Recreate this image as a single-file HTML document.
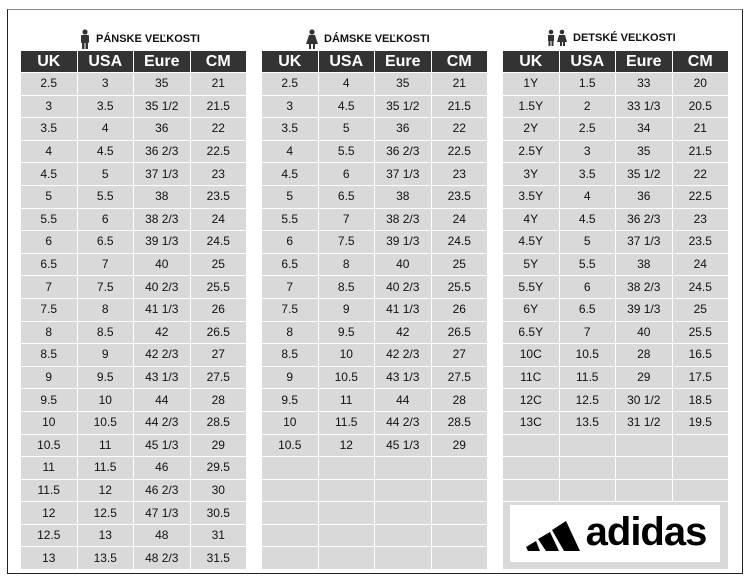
<!DOCTYPE html>
<html><head><meta charset="utf-8"><style>
body{margin:0;width:750px;height:580px;background:#fff;position:relative;font-family:"Liberation Sans",sans-serif;overflow:hidden}
.frame{position:absolute;left:7px;top:9px;width:734px;height:563px;border:1px solid #222;border-top-color:#888}
table{position:absolute;top:51px;width:227px;border-collapse:collapse;table-layout:fixed}
td{border:1px solid #fff;text-align:center;font-size:12px;color:#111;background:#d9d9d9;padding:0;height:21.6px;line-height:21px}
th{background:#333;color:#fff;font-size:16px;font-weight:bold;height:21px;border-left:1px solid #fff;border-right:1px solid #fff;padding:0}
.t{position:absolute;top:29px;font-size:11px;font-weight:bold;color:#111;display:flex;align-items:center;gap:5px}
.logo{position:absolute;left:510px;top:505px;width:210px;height:57px;background:#fff;display:flex;align-items:center;justify-content:center;gap:4px}
</style></head><body>
<div class="frame"></div>
<div class="t" style="left:79px"><svg width="12" height="20"><circle cx="6" cy="3" r="2.6" fill="#333"/><rect x="2" y="6" width="8" height="8" rx="1" fill="#333"/><rect x="3" y="13" width="2.5" height="7" fill="#333"/><rect x="6.5" y="13" width="2.5" height="7" fill="#333"/></svg>PÁNSKE VEĽKOSTI</div>
<div class="t" style="left:305px"><svg width="14" height="20"><circle cx="7" cy="3" r="2.6" fill="#333"/><path d="M4 6h6l3 9H1z" fill="#333"/><rect x="4" y="15" width="2" height="5" fill="#333"/><rect x="8" y="15" width="2" height="5" fill="#333"/></svg>DÁMSKE VEĽKOSTI</div>
<div class="t" style="left:546px"><svg width="22" height="18"><circle cx="5" cy="3" r="2.3" fill="#333"/><rect x="2" y="6" width="6" height="6" fill="#333"/><rect x="2.5" y="11" width="2" height="6" fill="#333"/><rect x="5.5" y="11" width="2" height="6" fill="#333"/><circle cx="16" cy="3" r="2.3" fill="#333"/><path d="M13 6h6l2 7h-10z" fill="#333"/><rect x="14" y="12" width="2" height="5" fill="#333"/><rect x="17" y="12" width="2" height="5" fill="#333"/></svg>DETSKÉ VEĽKOSTI</div>

<table style="left:20px"><tr><th>UK</th><th>USA</th><th>Eure</th><th>CM</th></tr>
<tr><td>2.5</td><td>3</td><td>35</td><td>21</td></tr>
<tr><td>3</td><td>3.5</td><td>35 1/2</td><td>21.5</td></tr>
<tr><td>3.5</td><td>4</td><td>36</td><td>22</td></tr>
<tr><td>4</td><td>4.5</td><td>36 2/3</td><td>22.5</td></tr>
<tr><td>4.5</td><td>5</td><td>37 1/3</td><td>23</td></tr>
<tr><td>5</td><td>5.5</td><td>38</td><td>23.5</td></tr>
<tr><td>5.5</td><td>6</td><td>38 2/3</td><td>24</td></tr>
<tr><td>6</td><td>6.5</td><td>39 1/3</td><td>24.5</td></tr>
<tr><td>6.5</td><td>7</td><td>40</td><td>25</td></tr>
<tr><td>7</td><td>7.5</td><td>40 2/3</td><td>25.5</td></tr>
<tr><td>7.5</td><td>8</td><td>41 1/3</td><td>26</td></tr>
<tr><td>8</td><td>8.5</td><td>42</td><td>26.5</td></tr>
<tr><td>8.5</td><td>9</td><td>42 2/3</td><td>27</td></tr>
<tr><td>9</td><td>9.5</td><td>43 1/3</td><td>27.5</td></tr>
<tr><td>9.5</td><td>10</td><td>44</td><td>28</td></tr>
<tr><td>10</td><td>10.5</td><td>44 2/3</td><td>28.5</td></tr>
<tr><td>10.5</td><td>11</td><td>45 1/3</td><td>29</td></tr>
<tr><td>11</td><td>11.5</td><td>46</td><td>29.5</td></tr>
<tr><td>11.5</td><td>12</td><td>46 2/3</td><td>30</td></tr>
<tr><td>12</td><td>12.5</td><td>47 1/3</td><td>30.5</td></tr>
<tr><td>12.5</td><td>13</td><td>48</td><td>31</td></tr>
<tr><td>13</td><td>13.5</td><td>48 2/3</td><td>31.5</td></tr>
</table>

<table style="left:261px"><tr><th>UK</th><th>USA</th><th>Eure</th><th>CM</th></tr>
<tr><td>2.5</td><td>4</td><td>35</td><td>21</td></tr>
<tr><td>3</td><td>4.5</td><td>35 1/2</td><td>21.5</td></tr>
<tr><td>3.5</td><td>5</td><td>36</td><td>22</td></tr>
<tr><td>4</td><td>5.5</td><td>36 2/3</td><td>22.5</td></tr>
<tr><td>4.5</td><td>6</td><td>37 1/3</td><td>23</td></tr>
<tr><td>5</td><td>6.5</td><td>38</td><td>23.5</td></tr>
<tr><td>5.5</td><td>7</td><td>38 2/3</td><td>24</td></tr>
<tr><td>6</td><td>7.5</td><td>39 1/3</td><td>24.5</td></tr>
<tr><td>6.5</td><td>8</td><td>40</td><td>25</td></tr>
<tr><td>7</td><td>8.5</td><td>40 2/3</td><td>25.5</td></tr>
<tr><td>7.5</td><td>9</td><td>41 1/3</td><td>26</td></tr>
<tr><td>8</td><td>9.5</td><td>42</td><td>26.5</td></tr>
<tr><td>8.5</td><td>10</td><td>42 2/3</td><td>27</td></tr>
<tr><td>9</td><td>10.5</td><td>43 1/3</td><td>27.5</td></tr>
<tr><td>9.5</td><td>11</td><td>44</td><td>28</td></tr>
<tr><td>10</td><td>11.5</td><td>44 2/3</td><td>28.5</td></tr>
<tr><td>10.5</td><td>12</td><td>45 1/3</td><td>29</td></tr>
<tr><td></td><td></td><td></td><td></td></tr>
<tr><td></td><td></td><td></td><td></td></tr>
<tr><td></td><td></td><td></td><td></td></tr>
<tr><td></td><td></td><td></td><td></td></tr>
<tr><td></td><td></td><td></td><td></td></tr>
</table>

<table style="left:502px"><tr><th>UK</th><th>USA</th><th>Eure</th><th>CM</th></tr>
<tr><td>1Y</td><td>1.5</td><td>33</td><td>20</td></tr>
<tr><td>1.5Y</td><td>2</td><td>33 1/3</td><td>20.5</td></tr>
<tr><td>2Y</td><td>2.5</td><td>34</td><td>21</td></tr>
<tr><td>2.5Y</td><td>3</td><td>35</td><td>21.5</td></tr>
<tr><td>3Y</td><td>3.5</td><td>35 1/2</td><td>22</td></tr>
<tr><td>3.5Y</td><td>4</td><td>36</td><td>22.5</td></tr>
<tr><td>4Y</td><td>4.5</td><td>36 2/3</td><td>23</td></tr>
<tr><td>4.5Y</td><td>5</td><td>37 1/3</td><td>23.5</td></tr>
<tr><td>5Y</td><td>5.5</td><td>38</td><td>24</td></tr>
<tr><td>5.5Y</td><td>6</td><td>38 2/3</td><td>24.5</td></tr>
<tr><td>6Y</td><td>6.5</td><td>39 1/3</td><td>25</td></tr>
<tr><td>6.5Y</td><td>7</td><td>40</td><td>25.5</td></tr>
<tr><td>10C</td><td>10.5</td><td>28</td><td>16.5</td></tr>
<tr><td>11C</td><td>11.5</td><td>29</td><td>17.5</td></tr>
<tr><td>12C</td><td>12.5</td><td>30 1/2</td><td>18.5</td></tr>
<tr><td>13C</td><td>13.5</td><td>31 1/2</td><td>19.5</td></tr>
<tr><td></td><td></td><td></td><td></td></tr>
<tr><td></td><td></td><td></td><td></td></tr>
<tr><td></td><td></td><td></td><td></td></tr>
<tr><td colspan="4" style="height:67px"></td></tr>
</table>
<div class="logo"><svg width="58" height="38" viewBox="0 0 58 38"><path d="M2 32l10-6 4 10H4z M14 24l12-7 9 19H22z M28 15l14-9 14 30H40z" fill="#000"/></svg><span style="font-size:40px;font-weight:bold;letter-spacing:-1px;line-height:40px;margin-top:-4px">adidas</span></div>
</body></html>
